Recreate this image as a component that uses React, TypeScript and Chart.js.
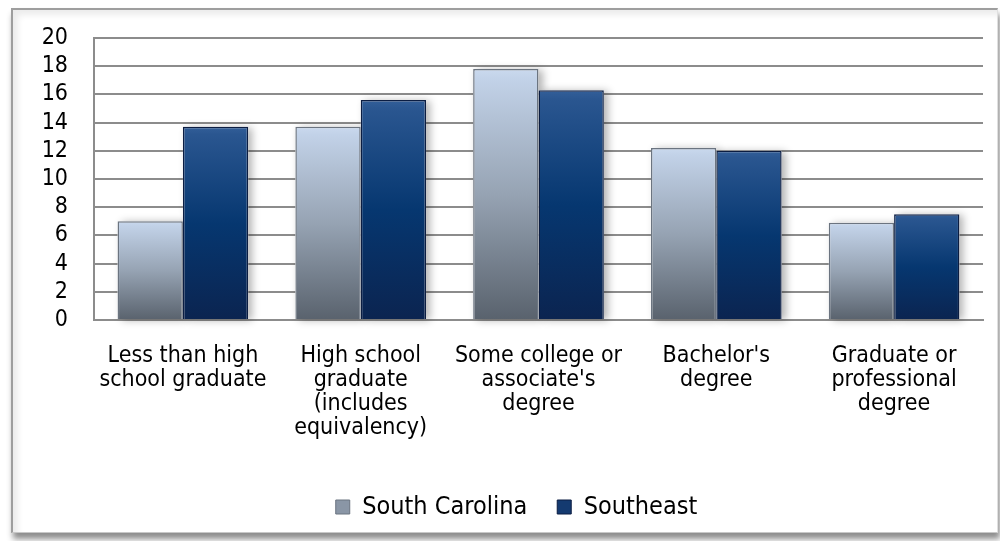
import React, { useEffect, useRef } from "react";
import { Chart, registerables } from "chart.js";

Chart.register(...registerables);

const categories: string[][] = [
  ["Less than high", "school graduate"],
  ["High school", "graduate", "(includes", "equivalency)"],
  ["Some college or", "associate's", "degree"],
  ["Bachelor's", "degree"],
  ["Graduate or", "professional", "degree"],
];
const southCarolina = [7.0, 13.7, 17.8, 12.2, 6.9];
const southeast = [13.7, 15.6, 16.3, 12.0, 7.5];
const seriesNames = ["South Carolina", "Southeast"];

const FONT = "'DejaVu Sans Condensed', 'DejaVu Sans', sans-serif";

function makeGradient(stops: [number, string][], fallback: string) {
  return (c: any) => {
    const chart = c.chart;
    if (!chart.chartArea || c.type !== "data" || !chart.scales.y) return fallback;
    const y = chart.scales.y;
    const top = y.getPixelForValue(c.raw);
    const bottom = y.getPixelForValue(0);
    if (!isFinite(top) || !isFinite(bottom) || top === bottom) return fallback;
    const g = chart.ctx.createLinearGradient(0, top, 0, bottom);
    stops.forEach(([o, col]) => g.addColorStop(o, col));
    return g;
  };
}

const shadowPlugin = {
  id: "barShadow",
  afterLayout(chart: any) {
    const lg = chart.legend;
    if (lg) {
      lg.left += 25;
      lg.right += 25;
    }
  },
  beforeDatasetsDraw(chart: any) {
    const ctx = chart.ctx;
    chart.data.datasets.forEach((_d: any, i: number) => {
      const meta = chart.getDatasetMeta(i);
      meta.data.forEach((el: any) => {
        const { x, y, base, width } = el.getProps(["x", "y", "base", "width"], true);
        ctx.save();
        ctx.shadowColor = "rgba(0,0,0,0.3)";
        ctx.shadowBlur = 8;
        ctx.shadowOffsetX = 4;
        ctx.shadowOffsetY = 1;
        ctx.fillStyle = "#ffffff";
        ctx.fillRect(x - width / 2, y, width, base - y);
        ctx.restore();
      });
    });
  },
};

export default function App() {
  const ref = useRef<HTMLCanvasElement | null>(null);
  useEffect(() => {
    if (!ref.current) return;
    const chart = new Chart(ref.current, {
      type: "bar",
      data: {
        labels: categories,
        datasets: [
          {
            label: seriesNames[0],
            data: southCarolina,
            backgroundColor: makeGradient(
              [
                [0, "#cad9ee"],
                [0.04, "#c2d2e8"],
                [0.5, "#96a3b3"],
                [1, "#59626d"],
              ],
              "#8e9aab"
            ),
            borderColor: "#6b7480",
            borderWidth: 1.5,
          },
          {
            label: seriesNames[1],
            data: southeast,
            backgroundColor: makeGradient(
              [
                [0, "#335f99"],
                [0.04, "#2a5690"],
                [0.5, "#063770"],
                [1, "#0b2450"],
              ],
              "#143a70"
            ),
            borderColor: "#0b1d42",
            borderWidth: 1.5,
          },
        ],
      },
      options: {
        animation: false,
        responsive: true,
        maintainAspectRatio: false,
        layout: { padding: { top: 38, left: 0, right: 17, bottom: 11.5 } },
        datasets: {
          bar: { categoryPercentage: 0.735, barPercentage: 1.0 },
        },
        scales: {
          x: {
            grid: { display: false, drawTicks: false },
            border: { display: true, color: "#8c8c8c", width: 2 },
            ticks: {
              padding: 24,
              color: "#000",
              maxRotation: 0,
              autoSkip: false,
              font: { family: FONT, size: 23, lineHeight: 24 / 23 },
            },
            afterFit: (s: any) => {
              s.height = 144.5;
            },
          },
          y: {
            min: 0,
            max: 20,
            grid: { color: "#8c8c8c", lineWidth: 2, drawTicks: false },
            border: { display: true, color: "#8c8c8c", width: 2 },
            ticks: {
              stepSize: 2,
              autoSkip: false,
              padding: 26,
              color: "#000",
              font: { family: FONT, size: 23, lineHeight: 1 },
            },
            afterFit: (s: any) => {
              s.width = 94;
            },
          },
        },
        plugins: {
          tooltip: { enabled: false },
          legend: {
            position: "bottom",
            labels: {
              color: "#000",
              boxWidth: 14,
              boxHeight: 14,
              padding: 30,
              font: { family: FONT, size: 25 },
              generateLabels: () => [
                { text: seriesNames[0], fillStyle: "#8a96a6", strokeStyle: "#6b7480", lineWidth: 1, datasetIndex: 0 },
                { text: seriesNames[1], fillStyle: "#143a70", strokeStyle: "#0b1d42", lineWidth: 1, datasetIndex: 1 },
              ],
            },
          },
        },
      },
      plugins: [shadowPlugin],
    });
    return () => chart.destroy();
  }, []);

  return (
    <div style={{ position: "fixed", left: 0, top: 0, width: 1000, height: 541, background: "#fff", overflow: "hidden" }}>
      <div
        style={{
          position: "absolute",
          left: 11,
          top: 8,
          width: 984,
          height: 522,
          borderLeft: "2px solid #9e9e9e",
          borderTop: "2px solid #9e9e9e",
          borderRight: "1px solid #e0e0e0",
          borderBottom: "1px solid #c8c8c8",
          boxShadow: "2px 6px 6px rgba(0,0,0,0.45), inset 5px 5px 6px rgba(0,0,0,0.08)",
          background: "#fff",
        }}
      />
      <div style={{ position: "absolute", left: 0, top: 0, width: 1000, height: 541 }}>
        <canvas ref={ref} />
      </div>
    </div>
  );
}
